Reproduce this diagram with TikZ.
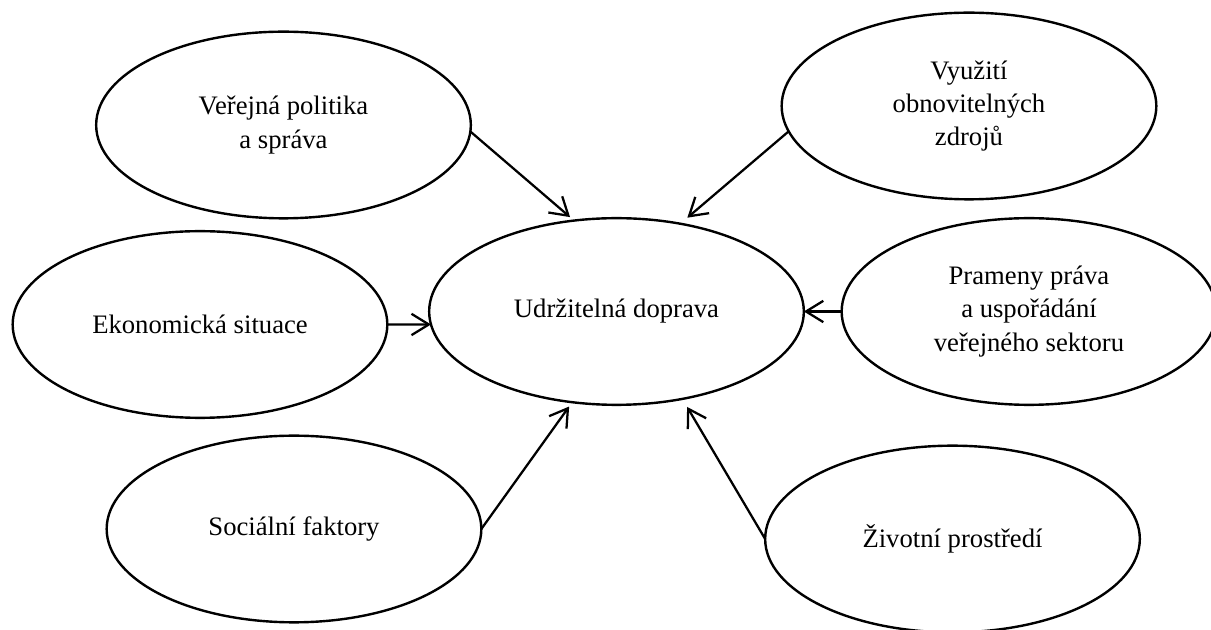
\documentclass[tikz,border=0pt]{standalone}
\usepackage{fontspec}
\setmainfont{Liberation Serif}
\usetikzlibrary{shapes.geometric,arrows.meta}
\begin{document}
\begin{tikzpicture}[x=0.75pt,y=-0.75pt,
  bubble/.style={ellipse,draw,line width=1.8pt,minimum width=281pt,
    minimum height=140pt,inner sep=0pt,outer sep=0pt,align=center,
    font=\fontsize{20}{25}\selectfont},
  link/.style={line width=1.7pt,-{Straight Barb[length=13pt,width=16pt]}}]
\useasboundingbox (0,0) rectangle (1211,630);

% central topic
\node[bubble] (ud) at (616.5,311.5) {Udržitelná doprava};

% influencing factors
\node[bubble] (vp) at (283.5,125) {Veřejná politika\\a správa};
\node[bubble] (vy) at (969,106) {Využití\\obnovitelných\\zdrojů};
\node[bubble] (ek) at (200,324.5) {Ekonomická situace};
\node[bubble] (pr) at (1029,311.5) {Prameny práva\\a uspořádání\\veřejného sektoru};
\node[bubble] (so) at (294,529) {Sociální faktory};
\node[bubble] (zp) at (952.5,539) {Životní prostředí};

% arrows into the central topic
\draw[link,shorten >=4pt] (vp.-2.5) -- (ud.115);
\draw[link,shorten >=7pt] (vy.188) -- (ud.54);
\draw[link] (ek.east) -- (ud.184);
\draw[link] (pr.west) -- (ud.east);
\draw[link,shorten >=4pt] (so.east) -- (ud.244.6);
\draw[link,shorten >=7pt] (zp.west) -- (ud.-53.1);
\end{tikzpicture}
\end{document}
